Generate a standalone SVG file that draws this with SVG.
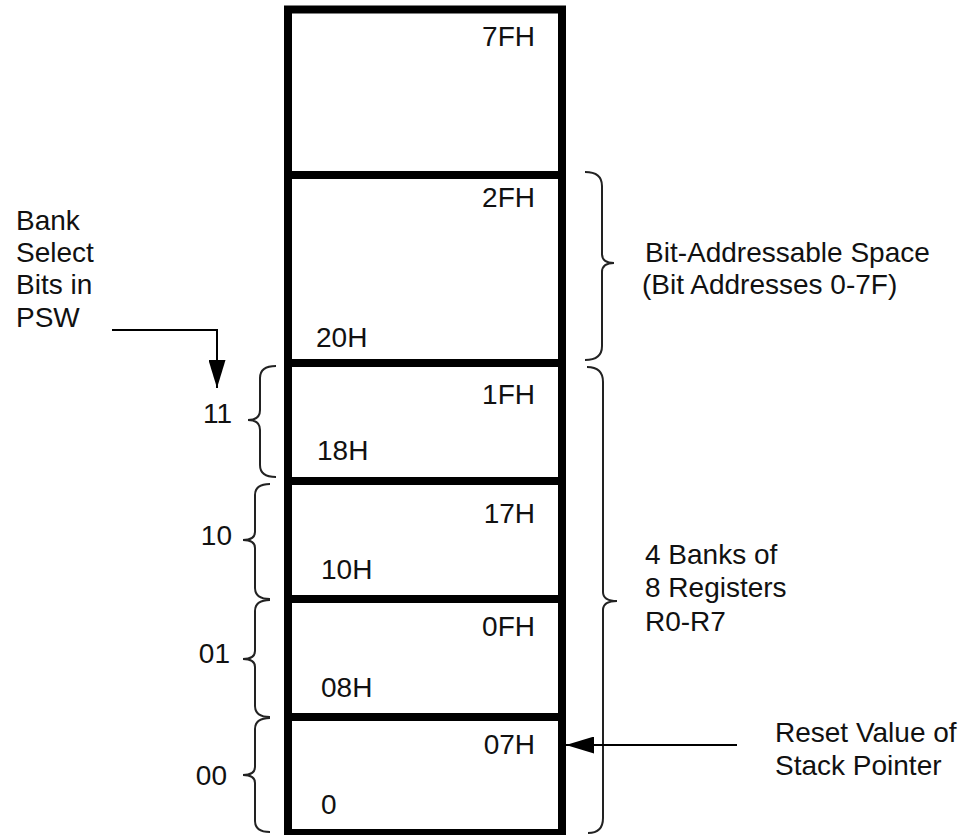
<svg xmlns="http://www.w3.org/2000/svg" width="969" height="835" viewBox="0 0 969 835">
<style>
  text { font-family: "Liberation Sans", Arial, sans-serif; font-size: 28px; fill: #111; }
  .end { text-anchor: end; }
  .box { fill: #fff; stroke: #000; stroke-width: 8; }
  .div { stroke: #000; stroke-width: 8; }
  .brace { fill: none; stroke: #222; stroke-width: 2; }
  .conn { fill: none; stroke: #000; stroke-width: 2; }
</style>
<defs>
  <marker id="arrow" viewBox="0 0 28 17" refX="28" refY="8.5" markerWidth="28" markerHeight="17" markerUnits="userSpaceOnUse" orient="auto">
    <path d="M0,0 L28,8.5 L0,17 z" fill="#000"/>
  </marker>
</defs>
<rect width="969" height="835" fill="#fff"/>

<g id="memory">
  <rect class="box" x="288" y="9.5" width="274" height="823.5"/>
  <line class="div" x1="288" y1="175" x2="562" y2="175"/>
  <line class="div" x1="288" y1="363" x2="562" y2="363"/>
  <line class="div" x1="288" y1="481" x2="562" y2="481"/>
  <line class="div" x1="288" y1="599" x2="562" y2="599"/>
  <line class="div" x1="288" y1="717" x2="562" y2="717"/>
</g>

<g id="row-7f">
  <text class="end" x="535" y="46">7FH</text>
</g>
<g id="row-bit">
  <text class="end" x="535" y="207">2FH</text>
  <text x="316" y="347">20H</text>
</g>
<g id="row-bank3">
  <text class="end" x="535" y="404">1FH</text>
  <text x="317" y="460">18H</text>
</g>
<g id="row-bank2">
  <text class="end" x="535" y="523">17H</text>
  <text x="321" y="579">10H</text>
</g>
<g id="row-bank1">
  <text class="end" x="535" y="636">0FH</text>
  <text x="321" y="697">08H</text>
</g>
<g id="row-bank0">
  <text class="end" x="535" y="754">07H</text>
  <text x="321" y="814">0</text>
</g>

<g id="left-braces">
  <path class="brace" d="M276,366 Q260,366 260,378 L260,410 Q260,420 248,420 Q260,420 260,430 L260,465 Q260,477 276,477"/>
  <path class="brace" d="M270,484 Q255,484 255,495 L255,532 Q255,540 243,540 Q255,540 255,548 L255,588 Q255,599 270,599"/>
  <path class="brace" d="M270,600 Q255,600 255,611 L255,651 Q255,659 243,659 Q255,659 255,667 L255,706 Q255,717 270,717"/>
  <path class="brace" d="M270,718 Q255,718 255,729 L255,767 Q255,775 243,775 Q255,775 255,783 L255,821 Q255,832 270,832"/>
  <text class="end" x="232" y="423">11</text>
  <text class="end" x="232" y="545">10</text>
  <text class="end" x="230" y="663">01</text>
  <text class="end" x="227" y="785">00</text>
</g>

<g id="right-braces">
  <path class="brace" d="M585,172 Q602,172 602,186 L602,254 Q602,263 614,263 Q602,263 602,272 L602,346 Q602,360 585,360"/>
  <path class="brace" d="M587,367 Q603,367 603,382 L603,592 Q603,601 617,601 Q603,601 603,610 L603,818 Q603,833 588,833"/>
</g>

<g id="label-psw">
  <text x="16" y="230">Bank</text>
  <text x="16" y="262">Select</text>
  <text x="16" y="294">Bits in</text>
  <text x="16" y="327">PSW</text>
</g>
<g id="label-bit">
  <text x="645" y="262">Bit-Addressable Space</text>
  <text x="642" y="294">(Bit Addresses 0-7F)</text>
</g>
<g id="label-banks">
  <text x="645" y="564">4 Banks of</text>
  <text x="645" y="597">8 Registers</text>
  <text x="645" y="631">R0-R7</text>
</g>
<g id="label-sp">
  <text x="775" y="742">Reset Value of</text>
  <text x="775" y="775">Stack Pointer</text>
</g>

<g id="connectors">
  <path class="conn" d="M112,330 H217 V388" marker-end="url(#arrow)"/>
  <path class="conn" d="M737,745 H566" marker-end="url(#arrow)"/>
</g>
</svg>
